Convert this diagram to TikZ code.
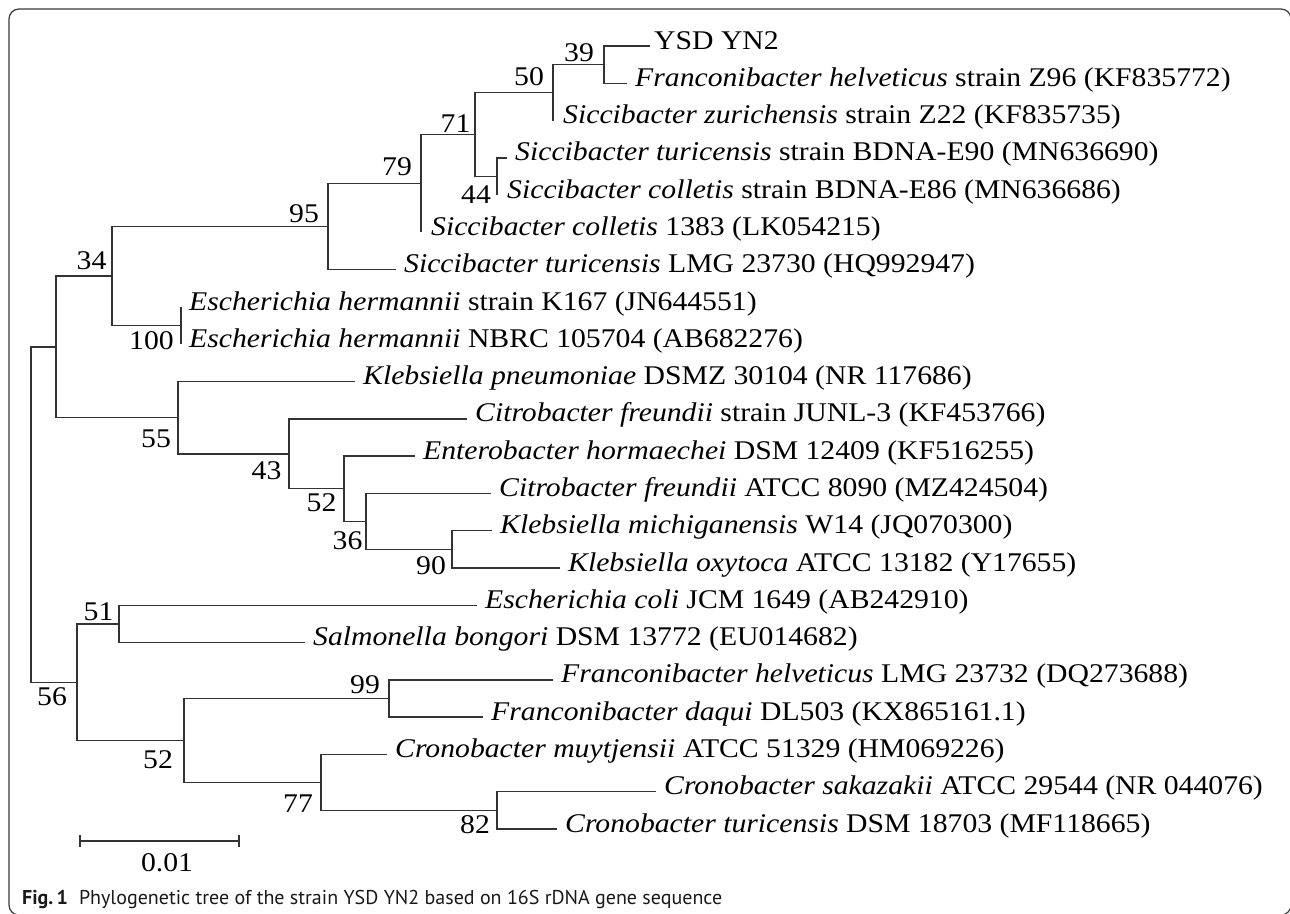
\documentclass[tikz,border=0pt]{standalone}
\usepackage{fontspec}
\newfontfamily\treefont{Liberation Serif}[FakeStretch=1.1]
\newfontfamily\capfont{PT Sans}
\definecolor{treecol}{HTML}{333333}
\definecolor{framecol}{HTML}{3A3A3A}
\begin{document}
\begin{tikzpicture}[x=1pt,y=-1pt,
  br/.style={draw=treecol, line width=1.4pt},
  leaf/.style={anchor=base west, inner sep=0pt, font=\treefont\fontsize{27}{30}\selectfont, text=black},
  bs/.style={inner sep=0pt, font=\treefont\fontsize{27}{30}\selectfont, text=black}]
\useasboundingbox (0,0) rectangle (1290,913);
\clip (0,0) rectangle (1290,913);
\draw[framecol, line width=1.2pt, rounded corners=10pt] (9,9) rectangle (1291,915);
% internal nodes
\coordinate (root) at (31,514.55);
\coordinate (nA) at (56,346.9);
\coordinate (n34) at (112,276.1);
\coordinate (n95) at (328,226.6);
\coordinate (n79) at (421,183.5);
\coordinate (n71) at (475,134.6);
\coordinate (n50) at (553,92.6);
\coordinate (n39) at (604,64.65);
\coordinate (n44) at (497,176.5);
\coordinate (n100) at (181,325.65);
\coordinate (n55) at (178,417.7);
\coordinate (n43) at (289,453.8);
\coordinate (n52) at (344,488.75);
\coordinate (n36) at (366,521.4);
\coordinate (n90) at (452,549.35);
\coordinate (n56) at (77,682.2);
\coordinate (n51) at (119,623.95);
\coordinate (n52b) at (184,740.45);
\coordinate (n99) at (389,698.5);
\coordinate (n77) at (321,782.4);
\coordinate (n82) at (497,810.35);
% leaves
\coordinate (l1) at (650,46);
\coordinate (l2) at (627,83.3);
\coordinate (l3) at (553,120.6);
\coordinate (l4) at (507,157.9);
\coordinate (l5) at (497,195.1);
\coordinate (l6) at (421,232.4);
\coordinate (l7) at (396,269.7);
\coordinate (l8) at (181,307.0);
\coordinate (l9) at (181,344.3);
\coordinate (l10) at (355,381.6);
\coordinate (l11) at (467,418.9);
\coordinate (l12) at (415,456.1);
\coordinate (l13) at (491,493.4);
\coordinate (l14) at (492,530.7);
\coordinate (l15) at (560,568.0);
\coordinate (l16) at (477,605.3);
\coordinate (l17) at (305,642.6);
\coordinate (l18) at (553,679.9);
\coordinate (l19) at (483,717.1);
\coordinate (l20) at (387,754.4);
\coordinate (l21) at (656,791.7);
\coordinate (l22) at (557,829.0);
% branches
\draw[br] (root) |- (nA);  \draw[br] (root) |- (n56);
\draw[br] (nA) |- (n34);   \draw[br] (nA) |- (n55);
\draw[br] (n34) |- (n95);  \draw[br] (n34) |- (n100);
\draw[br] (n95) |- (n79);  \draw[br] (n95) |- (l7);
\draw[br] (n79) |- (n71);  \draw[br] (n79) |- (l6);
\draw[br] (n71) |- (n50);  \draw[br] (n71) |- (n44);
\draw[br] (n50) |- (n39);  \draw[br] (n50) |- (l3);
\draw[br] (n39) |- (l1);   \draw[br] (n39) |- (l2);
\draw[br] (n44) |- (l4);   \draw[br] (n44) |- (l5);
\draw[br] (n100) |- (l8);  \draw[br] (n100) |- (l9);
\draw[br] (n55) |- (l10);  \draw[br] (n55) |- (n43);
\draw[br] (n43) |- (l11);  \draw[br] (n43) |- (n52);
\draw[br] (n52) |- (l12);  \draw[br] (n52) |- (n36);
\draw[br] (n36) |- (l13);  \draw[br] (n36) |- (n90);
\draw[br] (n90) |- (l14);  \draw[br] (n90) |- (l15);
\draw[br] (n56) |- (n51);  \draw[br] (n56) |- (n52b);
\draw[br] (n51) |- (l16);  \draw[br] (n51) |- (l17);
\draw[br] (n52b) |- (n99); \draw[br] (n52b) |- (n77);
\draw[br] (n99) |- (l18);  \draw[br] (n99) |- (l19);
\draw[br] (n77) |- (l20);  \draw[br] (n77) |- (n82);
\draw[br] (n82) |- (l21);  \draw[br] (n82) |- (l22);
% leaf labels
\node[leaf] (t1) at ([xshift=4pt,yshift=-3pt]l1) {YSD YN2};
\node[leaf] (t2) at ([xshift=8pt,yshift=-3pt]l2) {\textit{Franconibacter helveticus} strain Z96 (KF835772)};
\node[leaf] (t3) at ([xshift=10pt,yshift=-3pt]l3) {\textit{Siccibacter zurichensis} strain Z22 (KF835735)};
\node[leaf] (t4) at ([xshift=8pt,yshift=-3pt]l4) {\textit{Siccibacter turicensis} strain BDNA-E90 (MN636690)};
\node[leaf] (t5) at ([xshift=10pt,yshift=-3pt]l5) {\textit{Siccibacter colletis} strain BDNA-E86 (MN636686)};
\node[leaf] (t6) at ([xshift=10pt,yshift=-3pt]l6) {\textit{Siccibacter colletis} 1383 (LK054215)};
\node[leaf] (t7) at ([xshift=8pt,yshift=-3pt]l7) {\textit{Siccibacter turicensis} LMG 23730 (HQ992947)};
\node[leaf] (t8) at ([xshift=8pt,yshift=-3pt]l8) {\textit{Escherichia hermannii} strain K167 (JN644551)};
\node[leaf] (t9) at ([xshift=8pt,yshift=-3pt]l9) {\textit{Escherichia hermannii} NBRC 105704 (AB682276)};
\node[leaf] (t10) at ([xshift=8pt,yshift=-3pt]l10) {\textit{Klebsiella pneumoniae} DSMZ 30104 (NR 117686)};
\node[leaf] (t11) at ([xshift=8pt,yshift=-3pt]l11) {\textit{Citrobacter freundii} strain JUNL-3 (KF453766)};
\node[leaf] (t12) at ([xshift=8pt,yshift=-3pt]l12) {\textit{Enterobacter hormaechei} DSM 12409 (KF516255)};
\node[leaf] (t13) at ([xshift=8pt,yshift=-3pt]l13) {\textit{Citrobacter freundii} ATCC 8090 (MZ424504)};
\node[leaf] (t14) at ([xshift=8pt,yshift=-3pt]l14) {\textit{Klebsiella michiganensis} W14 (JQ070300)};
\node[leaf] (t15) at ([xshift=8pt,yshift=-3pt]l15) {\textit{Klebsiella oxytoca} ATCC 13182 (Y17655)};
\node[leaf] (t16) at ([xshift=8pt,yshift=-3pt]l16) {\textit{Escherichia coli} JCM 1649 (AB242910)};
\node[leaf] (t17) at ([xshift=8pt,yshift=-3pt]l17) {\textit{Salmonella bongori} DSM 13772 (EU014682)};
\node[leaf] (t18) at ([xshift=8pt,yshift=-3pt]l18) {\textit{Franconibacter helveticus} LMG 23732 (DQ273688)};
\node[leaf] (t19) at ([xshift=8pt,yshift=-3pt]l19) {\textit{Franconibacter daqui} DL503 (KX865161.1)};
\node[leaf] (t20) at ([xshift=8pt,yshift=-3pt]l20) {\textit{Cronobacter muytjensii} ATCC 51329 (HM069226)};
\node[leaf] (t21) at ([xshift=8pt,yshift=-3pt]l21) {\textit{Cronobacter sakazakii} ATCC 29544 (NR 044076)};
\node[leaf] (t22) at ([xshift=8pt,yshift=-3pt]l22) {\textit{Cronobacter turicensis} DSM 18703 (MF118665)};
% bootstrap values
\node[bs] (b39) at (579,52.5) {39};
\node[bs] (b50) at (529,76.5) {50};
\node[bs] (b71) at (455.5,123.5) {71};
\node[bs] (b79) at (397,166.5) {79};
\node[bs] (b44) at (476,195) {44};
\node[bs] (b95) at (304,214) {95};
\node[bs] (b34) at (91.5,261) {34};
\node[bs] (b100) at (151.5,341) {100};
\node[bs] (b55) at (156,439) {55};
\node[bs] (b43) at (266.5,471) {43};
\node[bs] (b52) at (321.5,502.5) {52};
\node[bs] (b36) at (347.5,541) {36};
\node[bs] (b90) at (431,566) {90};
\node[bs] (b51) at (98.5,612) {51};
\node[bs] (b56) at (52,697) {56};
\node[bs] (b99) at (365,685) {99};
\node[bs] (b52b) at (158,760) {52};
\node[bs] (b77) at (298,803.5) {77};
\node[bs] (b82) at (475,825) {82};
% scale bar
\coordinate (sbL) at (80,841);
\coordinate (sbR) at (239,841);
\draw[br] (sbL) -- (sbR);
\draw[br] ([yshift=6pt]sbL) -- ([yshift=-6pt]sbL);
\draw[br] ([yshift=6pt]sbR) -- ([yshift=-6pt]sbR);
\node[bs] (sbt) at (167,862.5) {0.01};
% caption
\node[anchor=base west, inner sep=0pt, font=\capfont\fontsize{20}{24}\selectfont, text=black!90] (cap) at (22,904)
  {\textbf{Fig.\,1}\hspace{0.55em}Phylogenetic tree of the strain YSD YN2 based on 16S rDNA gene sequence};
\end{tikzpicture}
\end{document}
